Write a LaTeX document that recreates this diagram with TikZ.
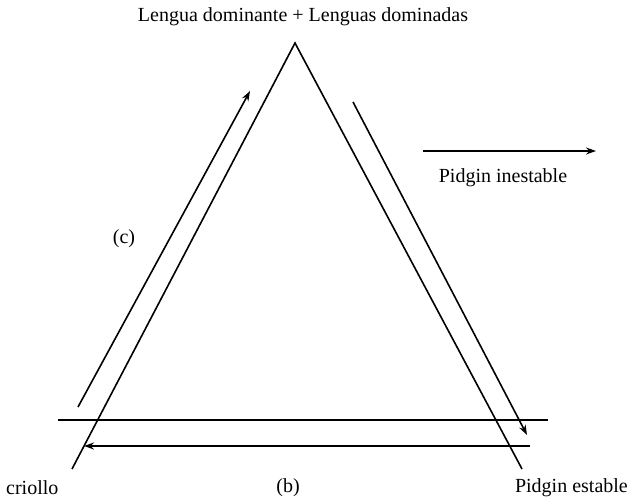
\documentclass[tikz,border=0pt]{standalone}
\usepackage{fontspec}
\setmainfont{Liberation Serif}
\usetikzlibrary{arrows.meta}
\begin{document}
\begin{tikzpicture}[x=1pt,y=1pt,
  ln/.style={line width=1.6pt},
  arr/.style={line width=1.6pt,-{Stealth[length=10pt,width=7pt]}},
  lbl/.style={inner sep=0pt,font=\fontsize{20}{24}\selectfont}]
\useasboundingbox (0,0) rectangle (629,501);
% triangle
\coordinate (A) at (295,458);
\coordinate (L) at (72,32);
\coordinate (R) at (522,32);
\draw[ln,line join=miter] (L) -- (A) -- (R);
% horizontal line
\coordinate (h1) at (58,81);
\coordinate (h2) at (548,81);
\draw[ln] (h1) -- (h2);
% arrows
\coordinate (c1) at (78,94);
\coordinate (c2) at (250,410);
\draw[arr] (c1) -- (c2);
\coordinate (d1) at (353,399);
\coordinate (d2) at (527,66);
\draw[arr] (d1) -- (d2);
\coordinate (b1) at (530,55);
\coordinate (b2) at (84,55);
\draw[arr] (b1) -- (b2);
\coordinate (p1) at (423,350);
\coordinate (p2) at (596,350);
\draw[arr] (p1) -- (p2);
% labels
\node[lbl] (title) at (303,484) {Lengua dominante + Lenguas dominadas};
\node[lbl,anchor=west] (cri) at (6,13) {criollo};
\node[lbl] (b) at (288,13) {(b)};
\node[lbl,anchor=east] (pe) at (628,13) {Pidgin estable};
\node[lbl] (pi) at (503,323) {Pidgin inestable};
\node[lbl] (c) at (124,262) {(c)};
\end{tikzpicture}
\end{document}
